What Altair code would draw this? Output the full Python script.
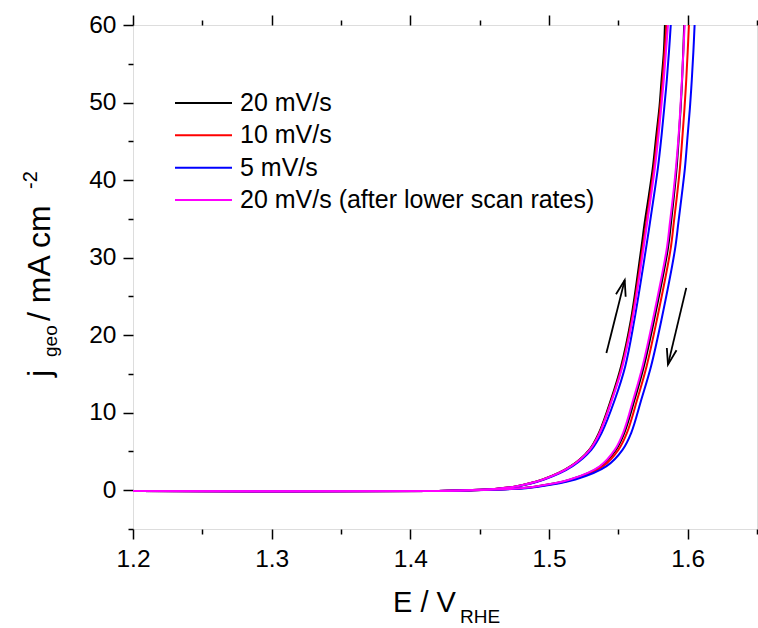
import math
import altair as alt
import pandas as pd

FONT = "Liberation Sans"

SERIES = ["20 mV/s", "10 mV/s", "5 mV/s", "20 mV/s (after lower scan rates)"]
COLORS = ["#000000", "#ff0000", "#0000ff", "#ff00ff"]

# current density levels (mA cm^-2) at which potentials were read
J_LEVELS = [-0.1, -0.1, 0.0, 0.15, 0.43, 1.38, 3.1, 5.2, 7.4, 11.7, 16, 21.9,
            31, 34.5, 38, 41.5, 45.8, 49.5, 53, 56.5, 60]

# forward (anodic) branch potentials, V vs RHE
E_FWD_20 = [1.200, 1.420, 1.440, 1.460, 1.474, 1.4955, 1.5157, 1.5290, 1.5360, 1.5447, 1.5520,
            1.5590, 1.5664, 1.5690, 1.5720, 1.5748, 1.5774, 1.5797, 1.5812, 1.5828, 1.5836]
E_FWD_10 = [1.200, 1.420, 1.440, 1.460, 1.474, 1.4957, 1.5160, 1.5293, 1.5364, 1.5452, 1.5526,
            1.5596, 1.5673, 1.5701, 1.5729, 1.5756, 1.5782, 1.5803, 1.5820, 1.5834, 1.5848]
E_FWD_5 = [1.200, 1.420, 1.441, 1.461, 1.475, 1.4965, 1.5170, 1.5305, 1.5380, 1.5475, 1.5550,
           1.5615, 1.5698, 1.5728, 1.5757, 1.5785, 1.5812, 1.5832, 1.5850, 1.5865, 1.5878]
E_FWD_20B = [1.200, 1.420, 1.440, 1.460, 1.474, 1.4957, 1.5160, 1.5294, 1.5366, 1.5455, 1.5530,
             1.5601, 1.5680, 1.5708, 1.5736, 1.5763, 1.5790, 1.5810, 1.5828, 1.5843, 1.5858]

# reverse (cathodic) branch potentials, V vs RHE
E_REV_20 = [1.200, 1.420, 1.445, 1.470, 1.4885, 1.5155, 1.5372, 1.5482, 1.5543, 1.5617, 1.5684,
            1.5757, 1.5856, 1.5880, 1.5901, 1.5920, 1.5937, 1.5950, 1.5960, 1.5968, 1.5975]
E_REV_10 = [1.200, 1.420, 1.446, 1.471, 1.4895, 1.5170, 1.5390, 1.5500, 1.5562, 1.5636, 1.5704,
            1.5777, 1.5876, 1.5900, 1.5923, 1.5944, 1.5963, 1.5978, 1.5990, 1.6000, 1.6009]
E_REV_5 = [1.200, 1.420, 1.447, 1.473, 1.4910, 1.5190, 1.5415, 1.5530, 1.5593, 1.5666, 1.5736,
           1.5810, 1.5908, 1.5933, 1.5957, 1.5980, 1.6000, 1.6017, 1.6030, 1.6041, 1.6050]
E_REV_20B = [1.200, 1.420, 1.445, 1.470, 1.4883, 1.5150, 1.5366, 1.5474, 1.5535, 1.5608, 1.5675,
             1.5748, 1.5848, 1.5872, 1.5895, 1.5915, 1.5935, 1.5948, 1.5959, 1.5969, 1.5978]

FWD = [E_FWD_20, E_FWD_10, E_FWD_5, E_FWD_20B]
REV = [E_REV_20, E_REV_10, E_REV_5, E_REV_20B]

# scan-direction arrows: start and tip (E, j)
ARROW_E_START = [1.5414, 1.5990]
ARROW_J_START = [17.7, 26.1]
ARROW_E_TIP = [1.5546, 1.5858]
ARROW_J_TIP = [27.1, 16.2]

X_MAJOR = [1.2, 1.3, 1.4, 1.5, 1.6]
X_MINOR = [1.25, 1.35, 1.45, 1.55, 1.65]
Y_MAJOR = [0, 10, 20, 30, 40, 50, 60]
Y_MINOR = [-5, 5, 15, 25, 35, 45, 55]

W, H = 624, 504
XDOM, YDOM = [1.2, 1.65], [-5, 60]

rows = []
for s, ef, er in zip(SERIES, FWD, REV):
    for k, (e, j) in enumerate(zip(ef, J_LEVELS)):
        rows.append({"series": s, "branch": s + " fwd", "E": e, "j": j, "k": k})
    for k, (e, j) in enumerate(zip(er, J_LEVELS)):
        rows.append({"series": s, "branch": s + " rev", "E": e, "j": j, "k": k})
df_curves = pd.DataFrame(rows)

arows = []
heads = []
for i in range(len(ARROW_E_START)):
    arows.append({"arrow": i, "E": ARROW_E_START[i], "j": ARROW_J_START[i]})
    arows.append({"arrow": i, "E": ARROW_E_TIP[i], "j": ARROW_J_TIP[i]})
    dx = (ARROW_E_TIP[i] - ARROW_E_START[i]) * W / (XDOM[1] - XDOM[0])
    dy = -(ARROW_J_TIP[i] - ARROW_J_START[i]) * H / (YDOM[1] - YDOM[0])
    ang = math.degrees(math.atan2(dx, -dy)) % 360
    heads.append({"E": ARROW_E_TIP[i], "j": ARROW_J_TIP[i], "ang": ang})
df_arrows = pd.DataFrame(arows)
df_heads = pd.DataFrame(heads)
df_legend = pd.DataFrame({"series": SERIES, "row": list(range(len(SERIES)))})

xs = alt.Scale(domain=XDOM, nice=False, zero=False)
ys = alt.Scale(domain=YDOM, nice=False, zero=False)
color = alt.Color("series:N", scale=alt.Scale(domain=SERIES, range=COLORS), legend=None)

AX = dict(domain=False, grid=False, title=None, tickColor="black", tickWidth=1.5,
          labelColor="black", labelFont=FONT, labelFontSize=24.5, labelFlush=False)


def xax(orient, values, size, labels):
    return alt.Axis(orient=orient, values=values, tickSize=size, labels=labels,
                    format=".1f", labelPadding=8, **AX)


def yax(orient, values, size, labels):
    return alt.Axis(orient=orient, values=values, tickSize=size, labels=labels,
                    format="d", labelPadding=7, **AX)


curves = alt.Chart(df_curves).mark_line(strokeWidth=2, interpolate="catmull-rom", clip=True).encode(
    x=alt.X("E:Q", scale=xs, axis=xax("bottom", X_MAJOR, 10, True)),
    y=alt.Y("j:Q", scale=ys, axis=yax("left", Y_MAJOR, 10, True)),
    color=color,
    detail="branch:N",
    order="k:Q",
)

shafts = alt.Chart(df_arrows).mark_line(color="black", strokeWidth=1.8).encode(
    x=alt.X("E:Q", scale=xs, axis=xax("bottom", X_MINOR, 5, False)),
    y=alt.Y("j:Q", scale=ys, axis=yax("left", Y_MINOR, 5, False)),
    detail="arrow:N",
)

HEAD = "M-0.3,0.96L0,0L0.3,0.96"
heads_l = alt.Chart(df_heads).mark_point(shape=HEAD, filled=False, color="black", strokeWidth=1.8,
                                         size=1100, opacity=1).encode(
    x=alt.X("E:Q", scale=xs, axis=xax("top", X_MAJOR, 10, False)),
    y=alt.Y("j:Q", scale=ys, axis=None),
    angle=alt.Angle("ang:Q", scale=None),
)

top_minor = alt.Chart(df_arrows).mark_line(strokeOpacity=0).encode(
    x=alt.X("E:Q", scale=xs, axis=xax("top", X_MINOR, 5, False)),
    y=alt.Y("j:Q", scale=ys, axis=None),
    detail="arrow:N",
)

ly = alt.Y("row:Q", scale=alt.Scale(domain=[0, 3], range=[78, 175]), axis=None)
leg_rules = alt.Chart(df_legend).mark_rule(strokeWidth=2).encode(
    x=alt.value(42), x2=alt.value(99), y=ly, color=color)
leg_text = alt.Chart(df_legend).mark_text(align="left", baseline="middle", font=FONT,
                                          fontSize=25, color="black").encode(
    x=alt.value(107), y=ly, text="series:N")


def label(txt, x, y, size, angle=0):
    return alt.Chart(pd.DataFrame({"t": [txt]})).mark_text(
        align="left", baseline="alphabetic", font=FONT, fontSize=size, color="black", angle=angle
    ).encode(x=alt.value(x), y=alt.value(y), text="t:N")


X_TITLE = ["E / V", "RHE"]
Y_TITLE = ["j", "geo", "/ mA cm", "-2"]

titles = [
    label(X_TITLE[0], 260, 587, 29),
    label(X_TITLE[1], 327, 598, 19),
    label(Y_TITLE[0], -83, 352, 32, 270),
    label(Y_TITLE[1], -76, 332, 19, 270),
    label(Y_TITLE[2], -83, 296, 32, 270),
    label(Y_TITLE[3], -96, 164, 20, 270),
]

chart = alt.layer(curves, shafts, heads_l, top_minor, leg_rules, leg_text, *titles).resolve_scale(
    y="independent"
).resolve_axis(x="independent", y="independent").properties(
    width=W, height=H,
    padding={"left": 133, "top": 25, "right": 1, "bottom": 99},
    autosize=alt.AutoSizeParams(type="none"),
).configure_view(stroke="black", strokeWidth=1.5).configure(background="white")

chart.save("out.html", embed_options={"renderer": "svg", "actions": False})
